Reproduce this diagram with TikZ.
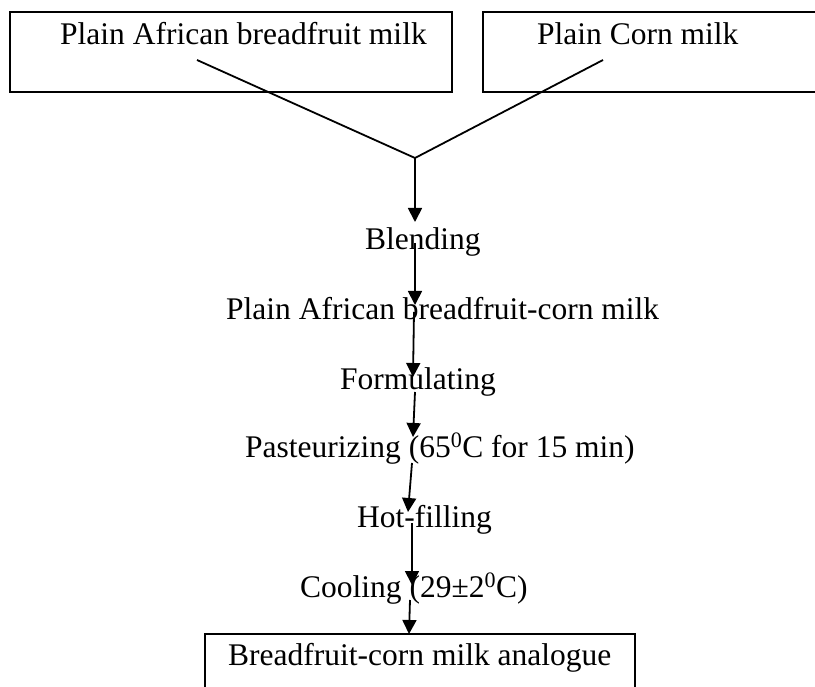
\documentclass[tikz,border=0pt]{standalone}
\usepackage{fontspec}
\setmainfont{Liberation Serif}
\usetikzlibrary{arrows.meta}
\begin{document}
\begin{tikzpicture}[x=1pt,y=-1pt,
  box/.style={draw,line width=1.8pt,inner sep=0pt},
  lbl/.style={inner sep=0pt,anchor=base west,font=\fontsize{31.5}{38}\selectfont},
  link/.style={line width=1.8pt},
  flow/.style={line width=1.8pt,-{Triangle[length=14pt,width=14pt]}}]
\useasboundingbox (0,0) rectangle (815,687);
\clip (0,0) rectangle (815,687);
% boxes
\node[box,minimum width=442pt,minimum height=80pt] (boxL) at (231,52) {};
\node[box,minimum width=360pt,minimum height=80pt] (boxR) at (663,52) {};
\node[box,minimum width=430pt,minimum height=90pt] (boxF) at (420,679) {};
% texts
\node[lbl] (tL) at (60,45) {Plain African breadfruit milk};
\node[lbl] (tR) at (537,45) {Plain Corn milk};
\node[lbl] (blend) at (365,250) {Blending};
\node[lbl] (pabc) at (226,320) {Plain African breadfruit-corn milk};
\node[lbl] (form) at (340,390) {Formulating};
\node[lbl] (past) at (245,457) {Pasteurizing (65\textsuperscript{0}C for 15 min)};
\node[lbl] (hot) at (357,527) {Hot-filling};
\node[lbl] (cool) at (300,597) {Cooling (29±2\textsuperscript{0}C)};
\node[lbl] (final) at (228,665) {Breadfruit-corn milk analogue};
% connector points
\coordinate (lS) at (197,60);
\coordinate (rS) at (603,60);
\coordinate (j) at (415,158);
\coordinate (a1e) at (415,222);
\coordinate (a2s) at (415,243);
\coordinate (a2e) at (415,305);
\coordinate (a3s) at (414,312);
\coordinate (a3e) at (413,377);
\coordinate (a4s) at (415,392);
\coordinate (a4e) at (413,437);
\coordinate (a5s) at (412,463);
\coordinate (a5e) at (408,512);
\coordinate (a6s) at (412,523);
\coordinate (a6e) at (412,585);
\coordinate (a7s) at (410,600);
\coordinate (a7e) at (409,634);
% connectors
\draw[link] (lS) -- (j);
\draw[link] (rS) -- (j);
\draw[flow] (j) -- (a1e);
\draw[flow] (a2s) -- (a2e);
\draw[flow] (a3s) -- (a3e);
\draw[flow] (a4s) -- (a4e);
\draw[flow] (a5s) -- (a5e);
\draw[flow] (a6s) -- (a6e);
\draw[flow] (a7s) -- (a7e);
\end{tikzpicture}
\end{document}
